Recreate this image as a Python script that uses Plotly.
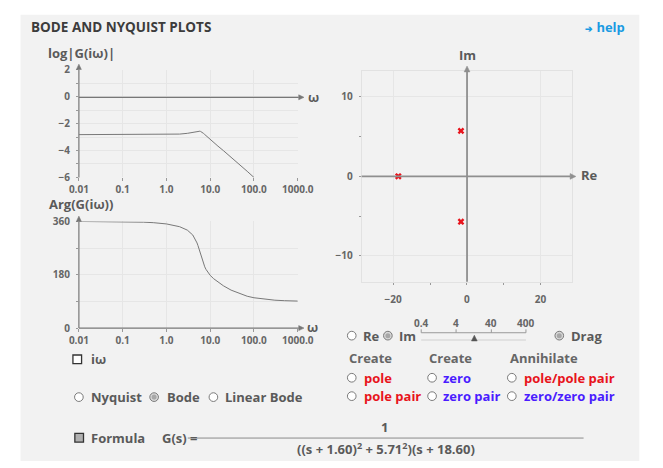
import plotly.graph_objects as go

# ---- frequency response of G(iω) ----
omega_mag = [0.01, 0.1, 0.3, 0.5, 1, 2, 3, 4, 4.5, 5, 5.25, 5.5, 5.8, 6, 6.25,
             6.5, 7, 7.5, 8, 9, 10, 12, 15, 20, 30, 50, 70, 100]
log_mag = [-2.816, -2.816, -2.815, -2.813, -2.806, -2.775, -2.720, -2.642, -2.599,
           -2.562, -2.552, -2.550, -2.560, -2.575, -2.602, -2.636, -2.719, -2.807,
           -2.893, -3.049, -3.184, -3.407, -3.670, -4.005, -4.487, -5.120, -5.547,
           -6.006]

omega_phase = [0.01, 0.1, 0.3, 0.5, 1, 2, 3, 4, 4.5, 5, 5.25, 5.5, 5.8, 6, 6.25,
               6.5, 7, 7.5, 8, 9, 10, 12, 15, 20, 30, 50, 70, 100, 200, 300, 500, 1000]
phase_deg = [359.92, 359.17, 357.51, 355.84, 351.57, 342.26, 330.69, 314.12, 302.41,
             287.38, 278.59, 269.13, 257.37, 249.63, 240.40, 231.93, 217.68, 206.74,
             198.33, 186.32, 178.01, 166.60, 155.31, 142.87, 128.13, 114.12, 107.52,
             102.38, 96.23, 94.16, 92.50, 91.25]

# ---- poles in the s-plane ----
pole_re = [-1.60, -1.60, -18.60]
pole_im = [5.71, -5.71, 0.0]

# ---- ticks ----
bode_tickvals = [0.01, 0.1, 1, 10, 100, 1000]
bode_ticktext = ["0.01", "0.1", "1.0", "10.0", "100.0", "1000.0"]
mag_tickvals = [-6, -4, -2, 0, 2]
mag_minor = [-5, -3, -1, 1]
phase_tickvals = [0, 180, 360]
phase_minor = [90, 270]
re_tickvals = [-20, 0, 20]
re_minor = [-10, 10]
im_tickvals = [-10, 0, 10]
im_minor = [-5, 5]
slider_labels = ["0.4", "4", "40", "400"]

W, H = 663, 468


def X(px):
    return px / W


def Y(py):
    return 1 - py / H


FONT = "Open Sans, Lato, sans-serif"
GRAY_TXT = "#5a5a5a"
RED = "#e8141c"
BLUE = "#4a1cff"
GRID = "#e6e6e6"
TICK = "#999999"

fig = go.Figure()

fig.add_trace(go.Scatter(x=omega_mag, y=log_mag, mode="lines",
                         line=dict(color="#787878", width=1), xaxis="x", yaxis="y",
                         hoverinfo="skip"))
fig.add_trace(go.Scatter(x=omega_phase, y=phase_deg, mode="lines",
                         line=dict(color="#787878", width=1), xaxis="x2", yaxis="y2",
                         hoverinfo="skip"))
fig.add_trace(go.Scatter(x=pole_re, y=pole_im, mode="markers",
                         marker=dict(symbol="x", size=6, color=RED,
                                     line=dict(width=0)),
                         xaxis="x3", yaxis="y3", hoverinfo="skip"))

tickfont = dict(family=FONT, size=10, color="#666666", weight="bold")


def minor_ticks(vals, grid):
    return dict(tickmode="array", tickvals=vals, ticks="outside", ticklen=2,
                tickcolor=TICK, showgrid=grid, gridcolor=GRID)


bode_x = dict(type="log", range=[-2, 3], domain=[X(71.7), X(299.5)],
              tickmode="array", tickvals=bode_tickvals, ticktext=bode_ticktext,
              showgrid=True, gridcolor=GRID, gridwidth=1, zeroline=False,
              showline=False, ticks="outside", ticklen=3, tickcolor=TICK,
              tickfont=tickfont, fixedrange=True)

fig.update_layout(
    width=W, height=H, margin=dict(l=0, r=0, t=0, b=0),
    paper_bgcolor="white", plot_bgcolor="white", showlegend=False,
    font=dict(family=FONT),
    xaxis=dict(bode_x, anchor="y"),
    yaxis=dict(range=[-6, 2], domain=[Y(175), Y(64)], anchor="x",
               tickmode="array", tickvals=mag_tickvals,
               showgrid=True, gridcolor=GRID, zeroline=False, showline=False,
               ticks="outside", ticklen=2, tickcolor=TICK,
               minor=minor_ticks(mag_minor, True),
               tickfont=tickfont, ticklabelstandoff=4, fixedrange=True),
    xaxis2=dict(bode_x, anchor="y2"),
    yaxis2=dict(range=[0, 360], domain=[Y(330.7), Y(220.5)], anchor="x2",
                tickmode="array", tickvals=phase_tickvals,
                showgrid=True, gridcolor=GRID, zeroline=False, showline=False,
                ticks="outside", ticklen=2, tickcolor=TICK,
                minor=minor_ticks(phase_minor, True),
                tickfont=tickfont, ticklabelstandoff=4, fixedrange=True),
    xaxis3=dict(range=[-28.55, 28.55], domain=[X(366), X(585)], anchor="y3",
                tickmode="array", tickvals=re_tickvals,
                showgrid=True, gridcolor=GRID, zeroline=False,
                showline=True, mirror=True, linecolor="#e2e2e2", linewidth=1,
                ticks="outside", ticklen=2, tickcolor=TICK,
                minor=minor_ticks(re_minor, False),
                tickfont=tickfont, ticklabelstandoff=6, fixedrange=True),
    yaxis3=dict(range=[-13.25, 13.25], domain=[Y(282.7), Y(65)], anchor="x3",
                tickmode="array", tickvals=im_tickvals,
                showgrid=True, gridcolor=GRID, zeroline=False,
                showline=True, mirror=True, linecolor="#e2e2e2", linewidth=1,
                ticks="outside", ticklen=2, tickcolor=TICK,
                minor=minor_ticks(im_minor, False),
                tickfont=tickfont, ticklabelstandoff=4, fixedrange=True),
)

shapes = []
annotations = []

# background panel (drawn beneath the plot areas)
shapes.append(dict(type="rect", xref="paper", yref="paper", layer="below",
                   x0=X(11), x1=X(655), y0=Y(468), y1=Y(7),
                   fillcolor="#f2f2f2", line=dict(width=0)))


def axis_arrow(x0, y0, x1, y1, color="#777777", width=1.2, head=5.5, half=2.6):
    """Axis line from (x0, y0) to (x1, y1) in pixels, ending in a filled arrowhead."""
    dx, dy = x1 - x0, y1 - y0
    n = (dx * dx + dy * dy) ** 0.5
    ux, uy = dx / n, dy / n
    bx, by = x1 - ux * head, y1 - uy * head
    shapes.append(dict(type="line", xref="paper", yref="paper",
                       x0=X(x0), y0=Y(y0), x1=X(bx), y1=Y(by),
                       line=dict(color=color, width=width)))
    px_, py_ = -uy, ux
    pts = [(x1, y1), (bx + px_ * half, by + py_ * half), (bx - px_ * half, by - py_ * half)]
    path = "M {},{} L {},{} L {},{} Z".format(*[v for p in pts for v in (X(p[0]), Y(p[1]))])
    shapes.append(dict(type="path", xref="paper", yref="paper", path=path,
                       fillcolor=color, line=dict(color=color, width=0.5)))


# Bode axes
axis_arrow(71.7, 92.3, 306, 92.3)
axis_arrow(71.7, 175, 71.7, 58)
axis_arrow(71.7, 330.7, 306, 330.7)
axis_arrow(71.7, 330.7, 71.7, 215)
# s-plane axes
axis_arrow(366, 174, 589, 174, color="#8f8f8f", width=1.8, head=6, half=3)
axis_arrow(475.7, 282.7, 475.7, 60, color="#8f8f8f", width=1.8, head=6, half=3)


def text(x, y, s, size=13, color=GRAY_TXT, anchor="left", weight="bold"):
    annotations.append(dict(x=X(x), y=Y(y), xref="paper", yref="paper", text=s,
                            showarrow=False, xanchor=anchor, yanchor="middle",
                            font=dict(family=FONT, size=size, color=color,
                                      weight=weight)))


def radio(cx, cy, selected=False):
    r = 4.5
    shapes.append(dict(type="circle", xref="paper", yref="paper",
                       x0=X(cx - r), x1=X(cx + r), y0=Y(cy + r), y1=Y(cy - r),
                       fillcolor="#d8d8d8" if selected else "white",
                       line=dict(color="#7a7a7a", width=1)))
    if selected:
        r2 = 2.6
        shapes.append(dict(type="circle", xref="paper", yref="paper",
                           x0=X(cx - r2), x1=X(cx + r2), y0=Y(cy + r2), y1=Y(cy - r2),
                           fillcolor="#a8a8a8", line=dict(width=0)))


def checkbox(cx, cy, checked=False):
    r = 4.5
    shapes.append(dict(type="rect", xref="paper", yref="paper",
                       x0=X(cx - r), x1=X(cx + r), y0=Y(cy + r), y1=Y(cy - r),
                       fillcolor="#b0b0b0" if checked else "white",
                       line=dict(color="#333333", width=1.3)))


# header
text(20, 20, "BODE AND NYQUIST PLOTS", size=13.5, color="#3c3c3c")
text(596, 20, "<span style='font-size:9px'>➔</span> help", size=13, color="#1a9be2")

# axis titles
text(37, 47, "log|G(iω)|")
text(39, 203, "Arg(G(iω))")
text(476, 49, "Im", anchor="center")
text(592, 173, "Re")
text(308, 92, "ω")
text(307, 330, "ω")

# controls under the Bode plots
checkbox(70, 363)
text(82, 363, "iω")
radio(71.7, 402)
text(82, 402, "Nyquist")
radio(150, 402, selected=True)
text(161.5, 402, "Bode")
radio(211.7, 402)
text(222, 402, "Linear Bode")

# transfer-function formula
checkbox(72, 444, checked=True)
text(82, 444, "Formula")
text(156, 444, "G(s) =")
shapes.append(dict(type="line", xref="paper", yref="paper",
                   x0=X(185), x1=X(597), y0=Y(444.3), y1=Y(444.3),
                   line=dict(color="#8a8a8a", width=1)))
text(390, 432.5, "1", anchor="center")
denominator = ("((s + {:.2f})<sup>2</sup> + {:.2f}<sup>2</sup>)(s + {:.2f})"
               .format(-pole_re[0], abs(pole_im[0]), -pole_re[2]))
text(391, 455, denominator, anchor="center")

# controls under the s-plane
radio(355.7, 338.5)
text(365.5, 338.5, "Re")
radio(393.3, 338.5, selected=True)
text(403, 338.5, "Im")
radio(571.7, 338.5, selected=True)
text(582, 338.5, "Drag")

slider_x = [428, 464.3, 501, 537]
shapes.append(dict(type="line", xref="paper", yref="paper",
                   x0=X(slider_x[0]), x1=X(slider_x[-1]), y0=Y(335.5), y1=Y(335.5),
                   line=dict(color="#9a9a9a", width=1)))
shapes.append(dict(type="line", xref="paper", yref="paper",
                   x0=X(slider_x[0]), x1=X(slider_x[-1]), y0=Y(343), y1=Y(343),
                   line=dict(color="#d0d0d0", width=1)))
for sx, lab in zip(slider_x, slider_labels):
    shapes.append(dict(type="line", xref="paper", yref="paper",
                       x0=X(sx), x1=X(sx), y0=Y(335.5), y1=Y(332),
                       line=dict(color="#9a9a9a", width=1)))
    text(sx, 325, lab, size=10, color="#666666", anchor="center")
thumb_x, thumb_y = 483.3, 341.5
shapes.append(dict(type="path", xref="paper", yref="paper",
                   path="M {},{} L {},{} L {},{} Z".format(
                       X(thumb_x), Y(thumb_y - 3.5), X(thumb_x + 3), Y(thumb_y + 2.5),
                       X(thumb_x - 3), Y(thumb_y + 2.5)),
                   fillcolor="#555555", line=dict(color="#555555", width=0.5)))

text(351, 362, "Create", color="#666666")
text(434, 362, "Create", color="#666666")
text(518, 362, "Annihilate", color="#666666")

radio(355.7, 382)
text(366, 382, "pole", color=RED)
radio(439.3, 382)
text(449, 382, "zero", color=BLUE)
radio(522.3, 382)
text(533, 382, "pole/pole pair", color=RED)
radio(355.7, 401)
text(366, 401, "pole pair", color=RED)
radio(439.3, 401)
text(449, 401, "zero pair", color=BLUE)
radio(522.3, 401)
text(533, 401, "zero/zero pair", color=BLUE)

fig.update_layout(shapes=shapes, annotations=annotations)
fig.write_html("out.html")
